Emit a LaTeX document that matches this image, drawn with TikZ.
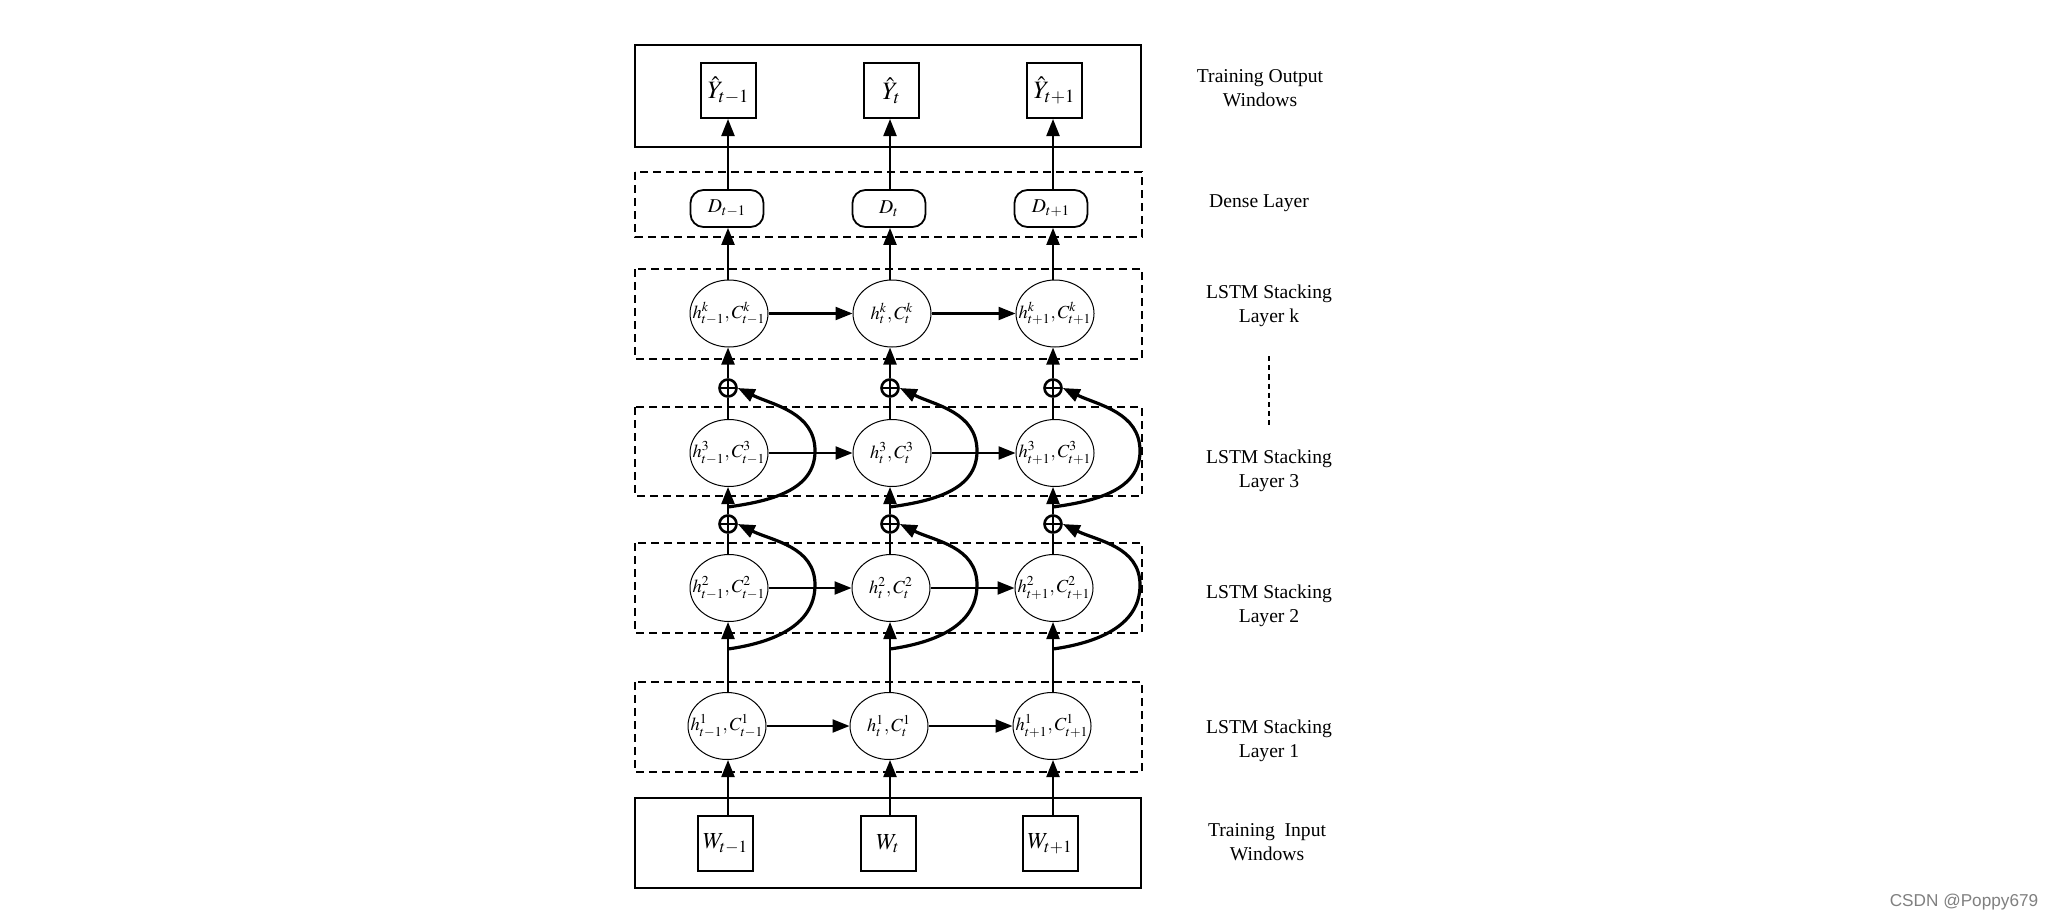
\documentclass[tikz,border=0pt]{standalone}
\usepackage{mathptmx}
\usepackage{fontspec}
\setmainfont{Liberation Serif}
\setsansfont{Liberation Sans}
\usetikzlibrary{arrows.meta,shapes.geometric}
\begin{document}
\begin{tikzpicture}[x=0.5pt,y=0.5pt,
  box/.style={draw,line width=1pt,minimum width=27.5pt,minimum height=27.5pt,inner sep=0pt},
  frame/.style={draw,line width=1pt},
  dbox/.style={draw,line width=1pt,dash pattern=on 4pt off 2.5pt},
  dnode/.style={draw,line width=0.9pt,rounded corners=6.5pt,minimum width=36.5pt,minimum height=18.5pt,inner sep=0pt,font=\fontsize{9.8}{11}\selectfont},
  cell/.style={draw,ellipse,line width=0.5pt,minimum width=39pt,minimum height=33.5pt,inner sep=0pt,font=\fontsize{9.2}{11}\selectfont},
  sumnode/.style={circle,draw,line width=1.3pt,minimum size=8.5pt,inner sep=0pt,
    path picture={\draw[line width=1.3pt] (path picture bounding box.north) -- (path picture bounding box.south) (path picture bounding box.west) -- (path picture bounding box.east);}},
  arr/.style={line width=1.1pt,-{Triangle[length=8.5pt,width=6.5pt]}},
  plain/.style={line width=1.1pt},
  res/.style={line width=1.6pt,-{Triangle[length=8.5pt,width=6.5pt]}},
  lab/.style={align=center,font=\fontsize{9.8}{11.7}\selectfont}
]
\useasboundingbox[fill=white] (0,0) rectangle (2060,-920);

% frames
\draw[frame] (635,-45) rectangle (1141,-147);
\draw[dbox] (635,-172) rectangle (1142,-237);
\draw[dbox] (635,-269) rectangle (1142,-359);
\draw[dbox] (635,-407) rectangle (1142,-496);
\draw[dbox] (635,-543) rectangle (1142,-633);
\draw[dbox] (635,-682) rectangle (1142,-772);
\draw[frame] (635,-798) rectangle (1141,-888);

% output boxes
\node[box,font=\fontsize{12.5}{14}\selectfont] (YA) at (728.5,-90.5) {$\hat{Y}_{t-1}$};
\node[box,font=\fontsize{12.5}{14}\selectfont] (YB) at (891.5,-90.5) {$\hat{Y}_{t}$};
\node[box,font=\fontsize{12.5}{14}\selectfont] (YC) at (1054.5,-90.5) {$\hat{Y}_{t+1}$};

% dense nodes
\node[dnode] (DA) at (727,-208.5) {$D_{t-1}$};
\node[dnode] (DB) at (889,-208.5) {$D_{t}$};
\node[dnode] (DC) at (1051,-208.5) {$D_{t+1}$};

% LSTM layer k
\node[cell] (kA) at (729,-313.5) {\makebox[0pt]{$h^{k}_{t-1},C^{k}_{t-1}$}};
\node[cell] (kB) at (892,-313.5) {\makebox[0pt]{$h^{k}_{t},C^{k}_{t}$}};
\node[cell] (kC) at (1055,-313.5) {\makebox[0pt]{$h^{k}_{t+1},C^{k}_{t+1}$}};

% upper sums
\node[sumnode] (sA) at (728,-388) {};
\node[sumnode] (sB) at (890,-388) {};
\node[sumnode] (sC) at (1053,-388) {};

% LSTM layer 3
\node[cell] (cA) at (729,-453) {\makebox[0pt]{$h^{3}_{t-1},C^{3}_{t-1}$}};
\node[cell] (cB) at (892,-453) {\makebox[0pt]{$h^{3}_{t},C^{3}_{t}$}};
\node[cell] (cC) at (1055,-453) {\makebox[0pt]{$h^{3}_{t+1},C^{3}_{t+1}$}};

% lower sums
\node[sumnode] (qA) at (728,-524) {};
\node[sumnode] (qB) at (890,-524) {};
\node[sumnode] (qC) at (1053,-524) {};

% LSTM layer 2
\node[cell] (bA) at (729,-588) {\makebox[0pt]{$h^{2}_{t-1},C^{2}_{t-1}$}};
\node[cell] (bB) at (891,-588) {\makebox[0pt]{$h^{2}_{t},C^{2}_{t}$}};
\node[cell] (bC) at (1054,-588) {\makebox[0pt]{$h^{2}_{t+1},C^{2}_{t+1}$}};

% LSTM layer 1
\node[cell] (aA) at (727,-726) {\makebox[0pt]{$h^{1}_{t-1},C^{1}_{t-1}$}};
\node[cell] (aB) at (889,-726) {\makebox[0pt]{$h^{1}_{t},C^{1}_{t}$}};
\node[cell] (aC) at (1052,-726) {\makebox[0pt]{$h^{1}_{t+1},C^{1}_{t+1}$}};

% input boxes
\node[box,font=\fontsize{11.5}{13}\selectfont] (WA) at (725.5,-843.5) {$W_{t-1}$};
\node[box,font=\fontsize{11.5}{13}\selectfont] (WB) at (888,-843.5) {$W_{t}$};
\node[box,font=\fontsize{11.5}{13}\selectfont] (WC) at (1050,-843.5) {$W_{t+1}$};

% residual branch points
\coordinate (rA) at (728,-649);
\coordinate (rB) at (890,-649);
\coordinate (rC) at (1053,-649);
\coordinate (uA) at (728,-507);
\coordinate (uB) at (890,-507);
\coordinate (uC) at (1053,-507);

% vertical flow
\foreach \c/\x in {A/728,B/890,C/1053}{
  \draw[arr] (W\c.north -| \x,0) -- (a\c.south -| \x,0);
  \draw[arr] (a\c.north -| \x,0) -- (b\c.south -| \x,0);
  \draw[plain] (b\c.north -| \x,0) -- (q\c.south);
  \draw[arr] (q\c.north) -- (c\c.south -| \x,0);
  \draw[plain] (c\c.north -| \x,0) -- (s\c.south);
  \draw[arr] (s\c.north) -- (k\c.south -| \x,0);
  \draw[arr] (k\c.north -| \x,0) -- (D\c.south -| \x,0);
  \draw[arr] (D\c.north -| \x,0) -- (Y\c.south -| \x,0);
  \draw[res] (r\c) to[out=8,in=-90] ++(87,64) to[out=90,in=-26] (q\c.east);
  \draw[res] (u\c) to[out=8,in=-90] ++(87,56) to[out=90,in=-26] (s\c.east);
}

% horizontal flow
\foreach \r in {a,b,c,k}{
  \draw[arr] (\r A.east) -- (\r B.west);
  \draw[arr] (\r B.east) -- (\r C.west);
}

% labels
\node[lab] (lout) at (1260,-88) {Training Output\\Windows};
\node[lab] (lden) at (1259,-203) {Dense Layer};
\node[lab] (lk) at (1269,-306) {LSTM Stacking\\Layer k};
\node[lab] (l3) at (1269,-471) {LSTM Stacking\\Layer 3};
\node[lab] (l2) at (1269,-606) {LSTM Stacking\\Layer 2};
\node[lab] (l1) at (1269,-741) {LSTM Stacking\\Layer 1};
\node[lab] (lin) at (1267,-842) {Training\ \ Input\\Windows};
\draw[line width=1pt,dash pattern=on 2.6pt off 2pt] (1269,-356) -- (1269,-425);

% watermark
\node[font=\sffamily\fontsize{8.6}{10}\selectfont,text=black!50] (wm) at (1964,-902) {CSDN @Poppy679};
\end{tikzpicture}
\end{document}
